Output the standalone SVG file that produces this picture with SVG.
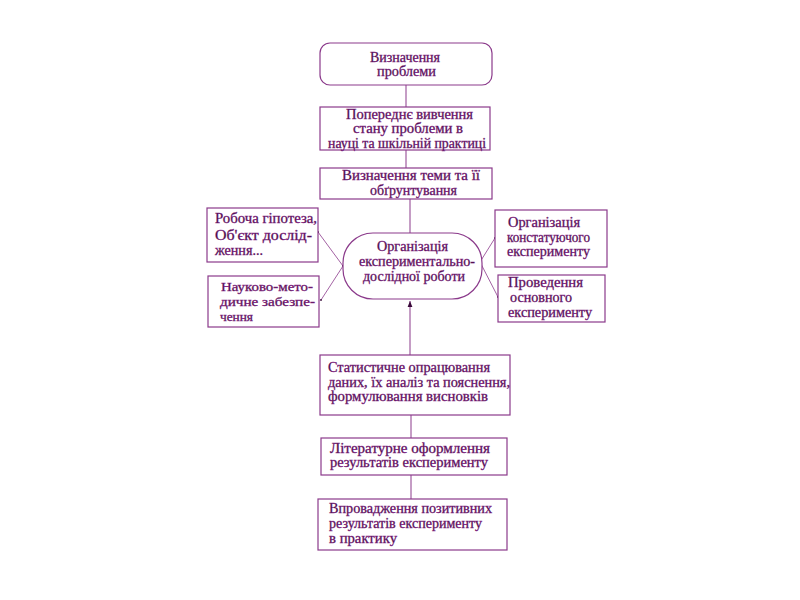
<svg xmlns="http://www.w3.org/2000/svg" width="800" height="600" viewBox="0 0 800 600">
<style>
.box{fill:#fff;stroke:#8b3a8b;stroke-width:1.2}
text{font-family:'Liberation Serif','DejaVu Serif','Times New Roman',serif;font-size:14px;fill:#3a0a3a;stroke:#8a2a8a;stroke-width:0.35}
.sm{font-size:13px}
.c{stroke:#8b3a8b;stroke-width:1;fill:none}
.cd{stroke:#8b3a8b;stroke-width:0.8;fill:none}
</style>
<defs>
<marker id="ah" viewBox="0 0 10 10" refX="10" refY="5" markerWidth="6" markerHeight="6" orient="auto">
<path d="M0,1 L10,5 L0,9 z" fill="#3a0a3a"/>
</marker>
<marker id="dot" viewBox="0 0 4 4" refX="2" refY="2" markerWidth="3" markerHeight="3">
<circle cx="2" cy="2" r="1.5" fill="#3a0a3a"/>
</marker>
</defs>
<rect width="800" height="600" fill="#fff"/>
<g id="connectors">
<line class="c" x1="406" y1="85" x2="406" y2="107"/>
<line class="c" x1="406" y1="150" x2="406" y2="168"/>
<line class="c" x1="410" y1="199" x2="410" y2="233"/>
<line class="c" x1="410" y1="355" x2="410" y2="301" marker-end="url(#ah)"/>
<line class="c" x1="411" y1="415" x2="411" y2="438"/>
<line class="c" x1="411" y1="475" x2="411" y2="499"/>
<line class="cd" x1="318" y1="232" x2="343" y2="266" marker-start="url(#dot)" marker-end="url(#dot)"/>
<line class="cd" x1="321" y1="300" x2="343" y2="266" marker-start="url(#dot)"/>
<line class="cd" x1="480" y1="262" x2="495" y2="238" marker-start="url(#dot)" marker-end="url(#dot)"/>
<line class="cd" x1="480" y1="262" x2="498" y2="297" marker-end="url(#dot)"/>
</g>
<g id="n1">
<rect class="box" x="320" y="43" width="172" height="42" rx="10"/>
<text x="370" y="62" textLength="70" lengthAdjust="spacingAndGlyphs">Визначення</text>
<text x="377" y="76" textLength="59" lengthAdjust="spacingAndGlyphs">проблеми</text>
</g>
<g id="n2">
<rect class="box" x="320" y="107" width="170" height="43"/>
<text x="346" y="119" textLength="127" lengthAdjust="spacingAndGlyphs">Попереднє вивчення</text>
<text x="353" y="133" textLength="110" lengthAdjust="spacingAndGlyphs">стану проблеми в</text>
<text x="328" y="148" textLength="158" lengthAdjust="spacingAndGlyphs">науці та шкільній практиці</text>
</g>
<g id="n3">
<rect class="box" x="320" y="168" width="172" height="31"/>
<text x="342" y="180" textLength="138" lengthAdjust="spacingAndGlyphs">Визначення теми та її</text>
<text x="370" y="195" textLength="87" lengthAdjust="spacingAndGlyphs">обґрунтування</text>
</g>
<g id="n4">
<rect class="box" x="343" y="233" width="139" height="66" rx="30"/>
<text x="377" y="251" textLength="71" lengthAdjust="spacingAndGlyphs">Організація</text>
<text x="359" y="266" textLength="116" lengthAdjust="spacingAndGlyphs">експериментально-</text>
<text x="363" y="281" textLength="102" lengthAdjust="spacingAndGlyphs">дослідної роботи</text>
</g>
<g id="n5">
<rect class="box" x="207" y="208" width="111" height="54"/>
<text x="215" y="223" textLength="102" lengthAdjust="spacingAndGlyphs">Робоча гіпотеза,</text>
<text x="215" y="240" textLength="97" lengthAdjust="spacingAndGlyphs">Об'єкт дослід-</text>
<text x="215" y="255" textLength="48" lengthAdjust="spacingAndGlyphs">ження...</text>
</g>
<g id="n6">
<rect class="box" x="208" y="276" width="111" height="51"/>
<text class="sm" x="221" y="291" textLength="92" lengthAdjust="spacingAndGlyphs">Науково-мето-</text>
<text class="sm" x="220" y="306" textLength="95" lengthAdjust="spacingAndGlyphs">дичне забезпе-</text>
<text class="sm" x="220" y="321" textLength="33" lengthAdjust="spacingAndGlyphs">чення</text>
</g>
<g id="n7">
<rect class="box" x="495" y="210" width="112" height="57"/>
<text x="508" y="227" textLength="72" lengthAdjust="spacingAndGlyphs">Організація</text>
<text x="507" y="242" textLength="83" lengthAdjust="spacingAndGlyphs">констатуючого</text>
<text x="507" y="256" textLength="83" lengthAdjust="spacingAndGlyphs">експерименту</text>
</g>
<g id="n8">
<rect class="box" x="498" y="275" width="107" height="47"/>
<text x="508" y="287" textLength="75" lengthAdjust="spacingAndGlyphs">Проведення</text>
<text x="510" y="302" textLength="62" lengthAdjust="spacingAndGlyphs">основного</text>
<text x="508" y="317" textLength="84" lengthAdjust="spacingAndGlyphs">експерименту</text>
</g>
<g id="n9">
<rect class="box" x="320" y="355" width="190" height="60"/>
<text x="328" y="372" textLength="162" lengthAdjust="spacingAndGlyphs">Статистичне опрацювання</text>
<text x="328" y="387" textLength="182" lengthAdjust="spacingAndGlyphs">даних, їх аналіз та пояснення,</text>
<text x="328" y="401" textLength="160" lengthAdjust="spacingAndGlyphs">формулювання висновків</text>
</g>
<g id="n10">
<rect class="box" x="321" y="438" width="186" height="37"/>
<text x="330" y="453" textLength="160" lengthAdjust="spacingAndGlyphs">Літературне оформлення</text>
<text x="330" y="467" textLength="158" lengthAdjust="spacingAndGlyphs">результатів експерименту</text>
</g>
<g id="n11">
<rect class="box" x="318" y="499" width="189" height="51"/>
<text x="329" y="513" textLength="163" lengthAdjust="spacingAndGlyphs">Впровадження позитивних</text>
<text x="329" y="528" textLength="153" lengthAdjust="spacingAndGlyphs">результатів експерименту</text>
<text x="329" y="543" textLength="68" lengthAdjust="spacingAndGlyphs">в практику</text>
</g>
</svg>
